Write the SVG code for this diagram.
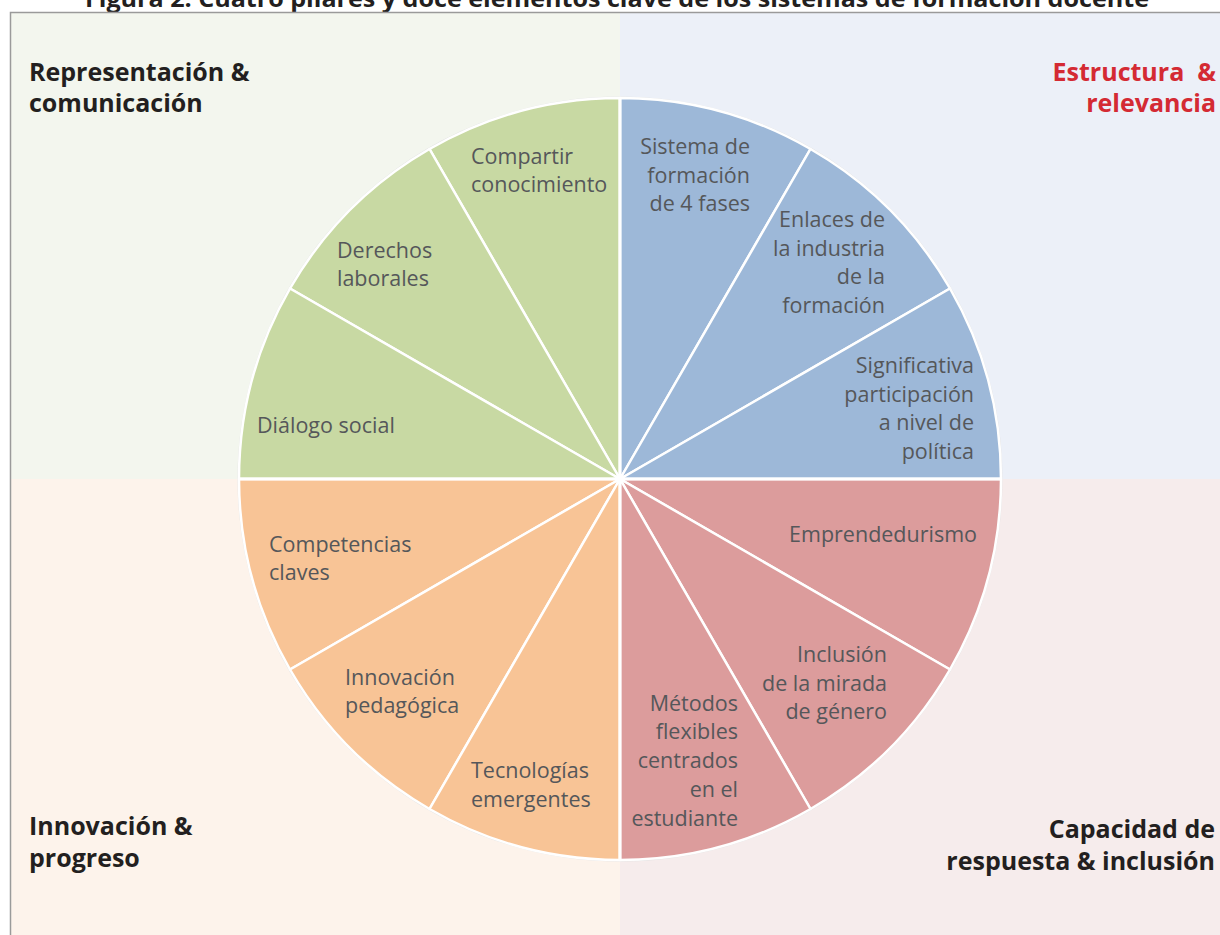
<svg xmlns="http://www.w3.org/2000/svg" width="1220" height="935" viewBox="0 0 1220 935">
  <style>
    .head { font-family: "Open Sans", "Liberation Sans", sans-serif; font-weight: 700; font-size: 25px; fill: #231F20; }
    .red { fill: #D42A33; }
    .lbl { font-family: "Open Sans", "Liberation Sans", sans-serif; font-size: 21.5px; fill: #55575A; }
    .end { text-anchor: end; }
    .wedge { stroke: #FFFFFF; stroke-width: 2.5; stroke-linejoin: round; }
    .g { fill: #C8D9A3; }
    .b { fill: #9DB8D8; }
    .o { fill: #F8C496; }
    .r { fill: #DC9C9C; }
  </style>

  <rect x="0" y="0" width="1220" height="935" fill="#FFFFFF"/>
  <text x="617" y="6.5" text-anchor="middle" class="head" style="font-size:24px" textLength="1064" lengthAdjust="spacingAndGlyphs">Figura 2. Cuatro pilares y doce elementos clave de los sistemas de formación docente</text>

  <g id="background">
    <rect x="11" y="13" width="609" height="466" fill="#F3F6EE"/>
    <rect x="620" y="13" width="600" height="466" fill="#ECF0F8"/>
    <rect x="11" y="479" width="609" height="456" fill="#FDF3EB"/>
    <rect x="620" y="479" width="600" height="456" fill="#F6ECEC"/>
    <path d="M10.5 935 V12.5 H1220" fill="none" stroke="#9A9A9A" stroke-width="1.5"/>
  </g>

  <circle cx="620" cy="479" r="381.5" fill="none" stroke="#E4E4E4" stroke-width="2"/>

  <g id="pillar-representacion">
    <text class="head" x="29" y="81">Representación &amp;</text>
    <text class="head" x="29" y="112">comunicación</text>
  </g>
  <g id="pillar-estructura">
    <text class="head red end" x="1216" y="81" xml:space="preserve">Estructura  &amp;</text>
    <text class="head red end" x="1216" y="112">relevancia</text>
  </g>
  <g id="pillar-innovacion">
    <text class="head" x="29" y="835">Innovación &amp;</text>
    <text class="head" x="29" y="867">progreso</text>
  </g>
  <g id="pillar-capacidad">
    <text class="head end" x="1215" y="838">Capacidad de</text>
    <text class="head end" x="1215" y="870">respuesta &amp; inclusión</text>
  </g>

  <!-- Green: Representación & comunicación -->
  <g id="compartir-conocimiento">
    <path class="wedge g" d="M620 479 L620 98 A381 381 0 0 0 429.5 149.0 Z"/>
    <text class="lbl" x="471" y="164">Compartir</text>
    <text class="lbl" x="471" y="192">conocimiento</text>
  </g>
  <g id="derechos-laborales">
    <path class="wedge g" d="M620 479 L429.5 149.0 A381 381 0 0 0 290.0 288.5 Z"/>
    <text class="lbl" x="337" y="258">Derechos</text>
    <text class="lbl" x="337" y="286">laborales</text>
  </g>
  <g id="dialogo-social">
    <path class="wedge g" d="M620 479 L290.0 288.5 A381 381 0 0 0 239 479 Z"/>
    <text class="lbl" x="257" y="433">Diálogo social</text>
  </g>

  <!-- Blue: Estructura & relevancia -->
  <g id="sistema-formacion">
    <path class="wedge b" d="M620 479 L620 98 A381 381 0 0 1 810.5 149.0 Z"/>
    <text class="lbl end" x="750" y="154">Sistema de</text>
    <text class="lbl end" x="750" y="183">formación</text>
    <text class="lbl end" x="750" y="211">de 4 fases</text>
  </g>
  <g id="enlaces-industria">
    <path class="wedge b" d="M620 479 L810.5 149.0 A381 381 0 0 1 950.0 288.5 Z"/>
    <text class="lbl end" x="885" y="227">Enlaces de</text>
    <text class="lbl end" x="885" y="256">la industria</text>
    <text class="lbl end" x="885" y="284">de la</text>
    <text class="lbl end" x="885" y="313">formación</text>
  </g>
  <g id="participacion-politica">
    <path class="wedge b" d="M620 479 L950.0 288.5 A381 381 0 0 1 1001 479 Z"/>
    <text class="lbl end" x="974" y="373">Significativa</text>
    <text class="lbl end" x="974" y="402">participación</text>
    <text class="lbl end" x="974" y="430">a nivel de</text>
    <text class="lbl end" x="974" y="459">política</text>
  </g>

  <!-- Orange: Innovación & progreso -->
  <g id="competencias-claves">
    <path class="wedge o" d="M620 479 L239 479 A381 381 0 0 0 290.0 669.5 Z"/>
    <text class="lbl" x="269" y="552">Competencias</text>
    <text class="lbl" x="269" y="580">claves</text>
  </g>
  <g id="innovacion-pedagogica">
    <path class="wedge o" d="M620 479 L290.0 669.5 A381 381 0 0 0 429.5 809.0 Z"/>
    <text class="lbl" x="345" y="685">Innovación</text>
    <text class="lbl" x="345" y="713">pedagógica</text>
  </g>
  <g id="tecnologias-emergentes">
    <path class="wedge o" d="M620 479 L429.5 809.0 A381 381 0 0 0 620 860 Z"/>
    <text class="lbl" x="471" y="778">Tecnologías</text>
    <text class="lbl" x="471" y="807">emergentes</text>
  </g>

  <!-- Red: Capacidad de respuesta & inclusión -->
  <g id="emprendedurismo">
    <path class="wedge r" d="M620 479 L1001 479 A381 381 0 0 1 950.0 669.5 Z"/>
    <text class="lbl end" x="977" y="542">Emprendedurismo</text>
  </g>
  <g id="inclusion-genero">
    <path class="wedge r" d="M620 479 L950.0 669.5 A381 381 0 0 1 810.5 809.0 Z"/>
    <text class="lbl end" x="887" y="662">Inclusión</text>
    <text class="lbl end" x="887" y="691">de la mirada</text>
    <text class="lbl end" x="887" y="719">de género</text>
  </g>
  <g id="metodos-flexibles">
    <path class="wedge r" d="M620 479 L810.5 809.0 A381 381 0 0 1 620 860 Z"/>
    <text class="lbl end" x="738" y="711">Métodos</text>
    <text class="lbl end" x="738" y="739">flexibles</text>
    <text class="lbl end" x="738" y="768">centrados</text>
    <text class="lbl end" x="738" y="797">en el</text>
    <text class="lbl end" x="738" y="826">estudiante</text>
  </g>

  <g id="connectors">
    <path d="M620 98 V860 M239 479 H1001" stroke="#FFFFFF" stroke-width="3" fill="none"/>
  </g>
</svg>
